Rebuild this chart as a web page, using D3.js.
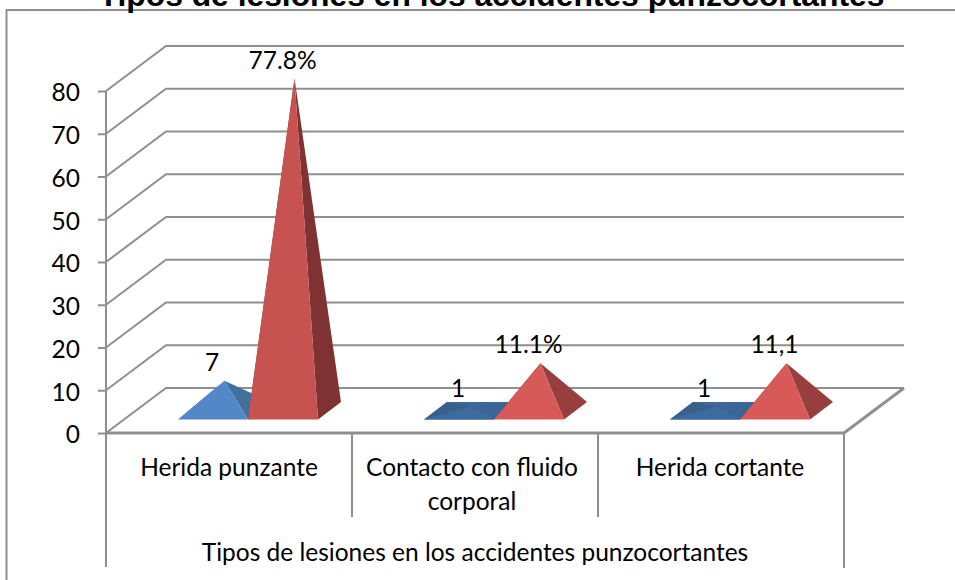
<!DOCTYPE html>
<html>
<head>
<meta charset="utf-8">
<script src="https://d3js.org/d3.v7.min.js"></script>
<style>
  html, body { margin: 0; padding: 0; background: #fff; overflow: hidden; }
  text { font-family: Lato, "Open Sans", sans-serif; fill: #000; }
  .chart-title { font-family: "Liberation Sans", Arial, sans-serif; font-weight: bold; font-size: 31.8px; }
  .lbl { font-size: 24.5px; }
</style>
</head>
<body>
<div id="vis_container"></div>
<script>
// Data
var categories = ["Herida punzante", "Contacto con fluido corporal", "Herida cortante"];
var countValues = [7, 1, 1];
var percentValues = [77.8, 11.1, 11.1];
var countLabels = ["7", "1", "1"];
var percentLabels = ["77.8%", "11.1%", "11,1"];
var yTicks = [0, 10, 20, 30, 40, 50, 60, 70, 80];
var axisTitle = "Tipos de lesiones en los accidentes punzocortantes";
var chartTitle = "Tipos de lesiones en los accidentes punzocortantes";

var width = 955;
var height = 580;

// Canvas
var svg = d3.select("#vis_container")
    .append("svg")
    .attr("width", width)
    .attr("height", height);

// Plot box and 3D offset of the back wall
var left = 106, right = 844, bottom = 433, top80 = 91;
var depthX = 60, depthY = -45;

// Scales
var x = d3.scaleBand().domain(categories).range([left, right]);
var y = d3.scaleLinear().domain([0, 80]).range([bottom, top80]);

var gridColor = "#8f8f8f";

// Chart frame, runs off the right and bottom of the picture
svg.append("rect")
    .attr("x", 6.5).attr("y", 10)
    .attr("width", 1000).attr("height", 700)
    .attr("fill", "none")
    .attr("stroke", gridColor)
    .attr("stroke-width", 2);

svg.append("text")
    .attr("class", "chart-title")
    .attr("x", 491.5)
    .attr("y", 6)
    .attr("text-anchor", "middle")
    .text(chartTitle);

// Back wall gridlines and the matching diagonals on the side wall
var grid = svg.append("g")
    .attr("stroke", gridColor)
    .attr("stroke-width", 2)
    .attr("fill", "none");

yTicks.forEach(function (t) {
    var py = y(t);
    grid.append("path").attr("d", d3.line()([
        [left, py],
        [left + depthX, py + depthY],
        [right + depthX, py + depthY]
    ]));
});

// Floor right edge and front edge
grid.append("path").attr("d", d3.line()([
    [left, bottom], [right, bottom], [right + depthX, bottom + depthY]
])).attr("stroke-width", 3);

// Y axis
var axisY = svg.append("g")
    .attr("transform", "translate(" + left + ",0)")
    .call(d3.axisLeft(y).tickValues(yTicks).tickSize(8).tickPadding(18));
axisY.selectAll("path, line").attr("stroke", gridColor).attr("stroke-width", 2);
axisY.select(".domain").remove();
axisY.selectAll("text")
    .attr("class", "lbl")
    .attr("dy", "0.4em")
    .style("font-size", "24.5px")
    .style("font-family", "Lato");

// Axis verticals and category separators
var seps = svg.append("g").attr("stroke", gridColor).attr("stroke-width", 2);
seps.append("line").attr("x1", left).attr("x2", left).attr("y1", top80).attr("y2", 567);
seps.append("line").attr("x1", right).attr("x2", right).attr("y1", bottom).attr("y2", 568);
categories.slice(1).forEach(function (c) {
    seps.append("line").attr("x1", x(c)).attr("x2", x(c)).attr("y1", bottom).attr("y2", 517);
});

// Pyramids
var baseY = 419.5;         // front edge of the bases
var baseDepthX = 23, baseDepthY = -17.5;
var baseWidth = 70;

function drawPyramid(x0, value, front, side, back) {
    var x1 = x0 + baseWidth;
    // top of the pyramid sits over the middle of the base
    var cx = x0 + baseWidth / 2 + baseDepthX / 2;
    var apexY = y(value) + (baseY + baseDepthY / 2 - bottom);
    var apex = [cx, apexY];
    var fl = [x0, baseY], fr = [x1, baseY];
    var bl = [x0 + baseDepthX, baseY + baseDepthY], br = [x1 + baseDepthX, baseY + baseDepthY];
    var g = svg.append("g");
    g.append("path").attr("d", d3.line()([bl, apex, fl])).attr("fill", back);
    g.append("path").attr("d", d3.line()([fr, apex, br])).attr("fill", side);
    g.append("path").attr("d", d3.line()([fl, apex, fr])).attr("fill", front);
}

// Offset of each bar pair inside its category
var pairPad = 72;

categories.forEach(function (c, i) {
    var x0 = x(c) + pairPad;
    var blueFlat = countValues[i] < 2;
    if (blueFlat) {
        var bl = [x0 + baseDepthX, baseY + baseDepthY];
        var br = [x0 + baseWidth + baseDepthX, baseY + baseDepthY];
        svg.append("path")
            .attr("d", d3.line()([[x0, baseY], bl, br, [x0 + baseWidth, baseY]]))
            .attr("fill", "#3f6797");
        drawPyramid(x0, countValues[i], "#3e6b9f", "#3a6596", "#3a5f8c");
    } else {
        drawPyramid(x0, countValues[i], "#5288c8", "#41709f", "#41709f");
    }
    var tall = percentValues[i] > 50;
    drawPyramid(x0 + baseWidth, percentValues[i],
        tall ? "#c75351" : "#d85a58",
        tall ? "#7e3332" : "#973f3e",
        "#7e3332");
});

// Data labels
categories.forEach(function (c, i) {
    svg.append("text").attr("class", "lbl")
        .attr("x", x(c) + 106)
        .attr("y", [371, 397, 397][i])
        .attr("text-anchor", "middle")
        .text(countLabels[i]);
    svg.append("text").attr("class", "lbl")
        .attr("x", x(c) + 176.5)
        .attr("y", [69, 353, 353][i])
        .attr("text-anchor", "middle")
        .text(percentLabels[i]);
});

// Category labels
svg.append("text").attr("class", "lbl").attr("x", 229).attr("y", 476)
    .attr("text-anchor", "middle").text(categories[0]);
svg.append("text").attr("class", "lbl").attr("x", 472).attr("y", 476)
    .attr("text-anchor", "middle").text("Contacto con fluido");
svg.append("text").attr("class", "lbl").attr("x", 472).attr("y", 510)
    .attr("text-anchor", "middle").text("corporal");
svg.append("text").attr("class", "lbl").attr("x", 720).attr("y", 476)
    .attr("text-anchor", "middle").text(categories[2]);

// Axis title
svg.append("text").attr("class", "lbl").attr("x", 475).attr("y", 561)
    .attr("text-anchor", "middle").text(axisTitle);
</script>
</body>
</html>
